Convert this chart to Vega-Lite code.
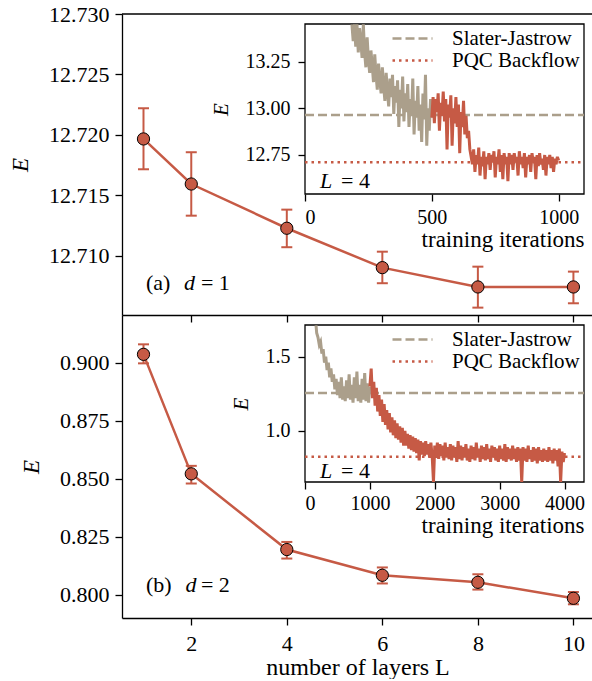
{
"$schema":"https://vega.github.io/schema/vega-lite/v6.json",
"padding":{"left":9,"top":3,"right":0,"bottom":0},
"spacing":0,
"bounds":"flush",
"config":{
 "font":"Liberation Serif",
 "view":{"stroke":null},
 "axis":{"grid":false,"domainColor":"black","domainWidth":1.3,"tickColor":"black","tickWidth":1.3,"tickSize":7,"labelColor":"black","titleColor":"black","labelFont":"Liberation Serif","titleFont":"Liberation Serif","labelFontSize":22,"titleFontSize":23,"titleFontWeight":"normal","labelPadding":6,"titlePadding":16},
 "legend":{"orient":"top-right","offset":13,"padding":0,"labelFont":"Liberation Serif","labelFontSize":21,"labelColor":"black","symbolType":"M-2,0L2,0","symbolSize":400,"symbolStrokeWidth":2.5,"labelOffset":28,"rowPadding":0},
 "text":{"font":"Liberation Serif","color":"black"}
},
"resolve":{"scale":{"color":"independent","strokeDash":"independent"}},
"datasets":{
 "top":[{"L":1,"E":12.71966,"lo":12.71715,"hi":12.7222},{"L":2,"E":12.71593,"lo":12.71331,"hi":12.71856},{"L":4,"E":12.71227,"lo":12.7107,"hi":12.71381},{"L":6,"E":12.70901,"lo":12.70772,"hi":12.71033},{"L":8,"E":12.70741,"lo":12.7057,"hi":12.70909},{"L":10,"E":12.70741,"lo":12.70606,"hi":12.70868}],
 "bot":[{"L":1,"E":0.90362,"lo":0.89974,"hi":0.90793},{"L":2,"E":0.85216,"lo":0.848,"hi":0.8556},{"L":4,"E":0.81957,"lo":0.81569,"hi":0.82284},{"L":6,"E":0.80849,"lo":0.80496,"hi":0.81186},{"L":8,"E":0.80547,"lo":0.80233,"hi":0.80892},{"L":10,"E":0.79858,"lo":0.79599,"hi":0.80129}],
 "sj1":[{"i":185,"E":13.45},{"i":190,"E":13.36},{"i":195,"E":13.45},{"i":200,"E":13.33},{"i":205,"E":13.45},{"i":210,"E":13.3},{"i":215,"E":13.43},{"i":220,"E":13.36},{"i":225,"E":13.27},{"i":230,"E":13.45},{"i":235,"E":13.3},{"i":240,"E":13.22},{"i":245,"E":13.38},{"i":250,"E":13.26},{"i":255,"E":13.19},{"i":260,"E":13.31},{"i":265,"E":13.23},{"i":270,"E":13.14},{"i":275,"E":13.29},{"i":280,"E":13.18},{"i":285,"E":13.1},{"i":290,"E":13.24},{"i":295,"E":13.15},{"i":300,"E":13.08},{"i":305,"E":13.22},{"i":310,"E":13.12},{"i":315,"E":13.04},{"i":320,"E":13.19},{"i":325,"E":13.09},{"i":330,"E":13.01},{"i":335,"E":13.16},{"i":340,"E":13.06},{"i":345,"E":13.18},{"i":350,"E":12.97},{"i":355,"E":13.12},{"i":360,"E":13.03},{"i":365,"E":13.15},{"i":370,"E":12.9},{"i":375,"E":13.1},{"i":380,"E":13.0},{"i":385,"E":13.17},{"i":390,"E":12.93},{"i":395,"E":13.08},{"i":400,"E":12.98},{"i":405,"E":13.13},{"i":410,"E":12.9},{"i":415,"E":13.05},{"i":420,"E":12.96},{"i":425,"E":13.16},{"i":430,"E":12.86},{"i":435,"E":13.04},{"i":440,"E":12.95},{"i":445,"E":13.12},{"i":450,"E":12.88},{"i":455,"E":13.02},{"i":460,"E":12.82},{"i":465,"E":13.08},{"i":470,"E":12.94},{"i":475,"E":13.18},{"i":480,"E":12.8},{"i":485,"E":13.0},{"i":490,"E":12.88},{"i":495,"E":13.05},{"i":500,"E":12.95}],
 "pqc1":[{"i":500,"E":12.95},{"i":505,"E":13.06},{"i":510,"E":12.92},{"i":515,"E":13.05},{"i":520,"E":12.98},{"i":525,"E":13.08},{"i":530,"E":12.88},{"i":535,"E":13.03},{"i":540,"E":12.96},{"i":545,"E":13.09},{"i":550,"E":12.93},{"i":555,"E":13.05},{"i":560,"E":12.78},{"i":565,"E":13.02},{"i":570,"E":12.95},{"i":575,"E":13.07},{"i":580,"E":12.8},{"i":585,"E":13.0},{"i":590,"E":12.92},{"i":595,"E":13.06},{"i":600,"E":12.9},{"i":605,"E":13.02},{"i":610,"E":12.76},{"i":615,"E":12.98},{"i":620,"E":12.9},{"i":625,"E":13.04},{"i":630,"E":12.86},{"i":635,"E":12.96},{"i":640,"E":12.84},{"i":645,"E":12.88},{"i":650,"E":12.78},{"i":655,"E":12.74},{"i":660,"E":12.7},{"i":665,"E":12.78},{"i":670,"E":12.66},{"i":675,"E":12.75},{"i":680,"E":12.7},{"i":685,"E":12.79},{"i":690,"E":12.64},{"i":695,"E":12.74},{"i":700,"E":12.69},{"i":705,"E":12.77},{"i":710,"E":12.62},{"i":715,"E":12.74},{"i":720,"E":12.7},{"i":725,"E":12.76},{"i":730,"E":12.67},{"i":735,"E":12.75},{"i":740,"E":12.71},{"i":745,"E":12.77},{"i":750,"E":12.63},{"i":755,"E":12.74},{"i":760,"E":12.7},{"i":765,"E":12.78},{"i":770,"E":12.66},{"i":775,"E":12.75},{"i":780,"E":12.62},{"i":785,"E":12.76},{"i":790,"E":12.7},{"i":795,"E":12.74},{"i":800,"E":12.61},{"i":805,"E":12.76},{"i":810,"E":12.7},{"i":815,"E":12.75},{"i":820,"E":12.67},{"i":825,"E":12.76},{"i":830,"E":12.71},{"i":835,"E":12.74},{"i":840,"E":12.64},{"i":845,"E":12.77},{"i":850,"E":12.7},{"i":855,"E":12.74},{"i":860,"E":12.68},{"i":865,"E":12.76},{"i":870,"E":12.63},{"i":875,"E":12.74},{"i":880,"E":12.7},{"i":885,"E":12.75},{"i":890,"E":12.66},{"i":895,"E":12.76},{"i":900,"E":12.71},{"i":905,"E":12.74},{"i":910,"E":12.62},{"i":915,"E":12.75},{"i":920,"E":12.69},{"i":925,"E":12.76},{"i":930,"E":12.7},{"i":935,"E":12.73},{"i":940,"E":12.67},{"i":945,"E":12.75},{"i":950,"E":12.64},{"i":955,"E":12.74},{"i":960,"E":12.7},{"i":965,"E":12.75},{"i":970,"E":12.68},{"i":975,"E":12.74},{"i":980,"E":12.66},{"i":985,"E":12.73},{"i":990,"E":12.7},{"i":995,"E":12.74},{"i":1000,"E":12.72}],
 "sj2":[{"i":170,"E":1.71},{"i":180,"E":1.66},{"i":200,"E":1.63},{"i":220,"E":1.58},{"i":240,"E":1.6},{"i":260,"E":1.52},{"i":280,"E":1.55},{"i":300,"E":1.46},{"i":320,"E":1.5},{"i":340,"E":1.41},{"i":360,"E":1.46},{"i":380,"E":1.36},{"i":400,"E":1.42},{"i":420,"E":1.33},{"i":440,"E":1.38},{"i":460,"E":1.28},{"i":480,"E":1.35},{"i":500,"E":1.24},{"i":520,"E":1.33},{"i":540,"E":1.22},{"i":560,"E":1.36},{"i":580,"E":1.21},{"i":600,"E":1.3},{"i":620,"E":1.2},{"i":640,"E":1.34},{"i":660,"E":1.22},{"i":680,"E":1.38},{"i":700,"E":1.21},{"i":720,"E":1.31},{"i":740,"E":1.19},{"i":760,"E":1.36},{"i":780,"E":1.22},{"i":800,"E":1.4},{"i":820,"E":1.2},{"i":840,"E":1.31},{"i":860,"E":1.19},{"i":880,"E":1.35},{"i":900,"E":1.21},{"i":920,"E":1.39},{"i":940,"E":1.2},{"i":960,"E":1.32},{"i":980,"E":1.19},{"i":1000,"E":1.3}],
 "pqc2":[{"i":1000,"E":1.3},{"i":1020,"E":1.42},{"i":1040,"E":1.22},{"i":1060,"E":1.33},{"i":1080,"E":1.17},{"i":1100,"E":1.29},{"i":1120,"E":1.13},{"i":1140,"E":1.24},{"i":1160,"E":1.1},{"i":1180,"E":1.21},{"i":1200,"E":1.06},{"i":1220,"E":1.18},{"i":1240,"E":1.04},{"i":1260,"E":1.14},{"i":1280,"E":1.01},{"i":1300,"E":1.12},{"i":1320,"E":0.99},{"i":1340,"E":1.09},{"i":1360,"E":0.97},{"i":1380,"E":1.07},{"i":1400,"E":0.95},{"i":1420,"E":1.05},{"i":1440,"E":0.94},{"i":1460,"E":1.03},{"i":1480,"E":0.92},{"i":1500,"E":1.02},{"i":1520,"E":0.9},{"i":1540,"E":1.0},{"i":1560,"E":0.9},{"i":1580,"E":0.98},{"i":1600,"E":0.88},{"i":1620,"E":0.97},{"i":1640,"E":0.87},{"i":1660,"E":0.96},{"i":1680,"E":0.86},{"i":1700,"E":0.95},{"i":1720,"E":0.85},{"i":1740,"E":0.94},{"i":1760,"E":0.8},{"i":1780,"E":0.93},{"i":1800,"E":0.84},{"i":1820,"E":0.92},{"i":1840,"E":0.83},{"i":1860,"E":0.93},{"i":1880,"E":0.84},{"i":1900,"E":0.91},{"i":1920,"E":0.82},{"i":1940,"E":0.92},{"i":1960,"E":0.83},{"i":1980,"E":0.6},{"i":2000,"E":0.9},{"i":2020,"E":0.82},{"i":2040,"E":0.92},{"i":2060,"E":0.81},{"i":2080,"E":0.91},{"i":2100,"E":0.83},{"i":2120,"E":0.9},{"i":2140,"E":0.8},{"i":2160,"E":0.92},{"i":2180,"E":0.82},{"i":2200,"E":0.89},{"i":2220,"E":0.81},{"i":2240,"E":0.91},{"i":2260,"E":0.8},{"i":2280,"E":0.9},{"i":2300,"E":0.82},{"i":2320,"E":0.89},{"i":2340,"E":0.79},{"i":2360,"E":0.93},{"i":2380,"E":0.81},{"i":2400,"E":0.9},{"i":2420,"E":0.8},{"i":2440,"E":0.89},{"i":2460,"E":0.82},{"i":2480,"E":0.91},{"i":2500,"E":0.8},{"i":2520,"E":0.88},{"i":2540,"E":0.79},{"i":2560,"E":0.9},{"i":2580,"E":0.81},{"i":2600,"E":0.89},{"i":2620,"E":0.8},{"i":2640,"E":0.92},{"i":2660,"E":0.82},{"i":2680,"E":0.88},{"i":2700,"E":0.79},{"i":2720,"E":0.9},{"i":2740,"E":0.81},{"i":2760,"E":0.89},{"i":2780,"E":0.8},{"i":2800,"E":0.91},{"i":2820,"E":0.81},{"i":2840,"E":0.88},{"i":2860,"E":0.79},{"i":2880,"E":0.9},{"i":2900,"E":0.82},{"i":2920,"E":0.89},{"i":2940,"E":0.8},{"i":2960,"E":0.88},{"i":2980,"E":0.79},{"i":3000,"E":0.9},{"i":3020,"E":0.81},{"i":3040,"E":0.88},{"i":3060,"E":0.8},{"i":3080,"E":0.91},{"i":3100,"E":0.79},{"i":3120,"E":0.89},{"i":3140,"E":0.81},{"i":3160,"E":0.88},{"i":3180,"E":0.8},{"i":3200,"E":0.9},{"i":3220,"E":0.81},{"i":3240,"E":0.88},{"i":3260,"E":0.79},{"i":3280,"E":0.89},{"i":3300,"E":0.8},{"i":3320,"E":0.88},{"i":3340,"E":0.6},{"i":3360,"E":0.89},{"i":3380,"E":0.8},{"i":3400,"E":0.88},{"i":3420,"E":0.79},{"i":3440,"E":0.9},{"i":3460,"E":0.81},{"i":3480,"E":0.87},{"i":3500,"E":0.79},{"i":3520,"E":0.89},{"i":3540,"E":0.8},{"i":3560,"E":0.88},{"i":3580,"E":0.78},{"i":3600,"E":0.89},{"i":3620,"E":0.8},{"i":3640,"E":0.87},{"i":3660,"E":0.79},{"i":3680,"E":0.88},{"i":3700,"E":0.8},{"i":3720,"E":0.87},{"i":3740,"E":0.79},{"i":3760,"E":0.89},{"i":3780,"E":0.8},{"i":3800,"E":0.87},{"i":3820,"E":0.78},{"i":3840,"E":0.88},{"i":3860,"E":0.8},{"i":3880,"E":0.87},{"i":3900,"E":0.76},{"i":3920,"E":0.88},{"i":3940,"E":0.65},{"i":3960,"E":0.86},{"i":3980,"E":0.79},{"i":4000,"E":0.85}]
},
"vconcat":[
 {
  "width":471,"height":301,
  "resolve":{"scale":{"x":"independent","y":"independent"},"axis":{"x":"independent","y":"independent"}},
  "layer":[
   {
    "layer":[
     {"data":{"name":"top"},"mark":{"type":"rule","color":"#c65a45","strokeWidth":2},
      "encoding":{
       "x":{"field":"L","type":"quantitative","scale":{"domain":[0.55,10.41],"nice":false,"zero":false},"axis":{"values":[2,4,6,8,10],"labels":false,"title":null}},
       "y":{"field":"lo","type":"quantitative","scale":{"domain":[12.70509,12.73],"nice":false,"zero":false},"axis":{"values":[12.71,12.715,12.72,12.725,12.73],"format":".3f","title":"E","titleFontStyle":"italic"}},
       "y2":{"field":"hi"}}},
     {"data":{"name":"top"},"mark":{"type":"tick","orient":"horizontal","color":"#c65a45","size":11,"thickness":2,"opacity":1},"encoding":{"x":{"field":"L","type":"quantitative"},"y":{"field":"lo","type":"quantitative"}}},
     {"data":{"name":"top"},"mark":{"type":"tick","orient":"horizontal","color":"#c65a45","size":11,"thickness":2,"opacity":1},"encoding":{"x":{"field":"L","type":"quantitative"},"y":{"field":"hi","type":"quantitative"}}},
     {"data":{"name":"top"},"mark":{"type":"line","color":"#c65a45","strokeWidth":2.5},"encoding":{"x":{"field":"L","type":"quantitative"},"y":{"field":"E","type":"quantitative"}}},
     {"data":{"name":"top"},"mark":{"type":"circle","size":150,"fill":"#c65a45","stroke":"black","strokeWidth":1,"opacity":1},"encoding":{"x":{"field":"L","type":"quantitative"},"y":{"field":"E","type":"quantitative"}}},
     {"data":{"values":[{"E":12.73}]},"mark":{"type":"rule","color":"black","strokeWidth":1.3},"encoding":{"y":{"field":"E","type":"quantitative"}}},
     {"data":{"values":[{"L":1.052,"E":12.70774,"t":"(a)"},{"L":2.203,"E":12.70774,"t":"= 1"}]},"mark":{"type":"text","fontSize":22,"align":"left","baseline":"middle"},"encoding":{"x":{"field":"L","type":"quantitative"},"y":{"field":"E","type":"quantitative"},"text":{"field":"t"}}},
     {"data":{"values":[{"L":1.847,"E":12.70774,"t":"d"}]},"mark":{"type":"text","fontSize":22,"fontStyle":"italic","align":"left","baseline":"middle"},"encoding":{"x":{"field":"L","type":"quantitative"},"y":{"field":"E","type":"quantitative"},"text":{"field":"t"}}}
    ]
   },
   {
    "encoding":{
     "x":{"field":"i","type":"quantitative","scale":{"domain":[0,1100],"range":[183,462],"nice":false,"zero":false},"axis":{"orient":"bottom","offset":-121,"values":[0,500,1000],"format":"d","domain":false,"tickSize":7,"labelFontSize":20,"labelPadding":6,"title":"training iterations","titleFontSize":23,"titlePadding":1,"titleAnchor":"end"}},
     "y":{"field":"E","type":"quantitative","scale":{"domain":[12.541,13.452],"range":[180,10],"nice":false,"zero":false,"clamp":true},"axis":{"orient":"left","offset":-183,"values":[12.75,13,13.25],"format":".2f","domain":false,"tickSize":7,"labelFontSize":20,"labelPadding":8,"title":"E","titleFontStyle":"italic","titleFontSize":21,"titlePadding":14}}
    },
    "layer":[
     {"data":{"values":[{"i":0,"i2":1100,"E":12.541,"E2":13.452}]},"mark":{"type":"rect","fill":"white","stroke":"black","strokeWidth":1.3},"encoding":{"x2":{"field":"i2"},"y2":{"field":"E2"}}},
     {"data":{"values":[{"i":0,"i2":1100,"E":12.964,"m":"Slater-Jastrow"},{"i":0,"i2":1100,"E":12.711,"m":"PQC Backflow"}]},"mark":{"type":"rule","strokeWidth":2.5},
      "encoding":{"x2":{"field":"i2"},
       "color":{"field":"m","type":"nominal","scale":{"domain":["Slater-Jastrow","PQC Backflow"],"range":["#ab9f8b","#c65a45"]},"legend":{"title":null}},
       "strokeDash":{"field":"m","type":"nominal","scale":{"domain":["Slater-Jastrow","PQC Backflow"],"range":[[9,4],[2.5,4]]},"legend":{"title":null}}}},
     {"data":{"name":"sj1"},"mark":{"type":"line","color":"#ab9f8b","strokeWidth":3}},
     {"data":{"name":"pqc1"},"mark":{"type":"line","color":"#c65a45","strokeWidth":3}},
     {"data":{"values":[{"i":59,"E":12.611,"t":"L"}]},"mark":{"type":"text","fontSize":22,"fontStyle":"italic","align":"left","baseline":"middle"},"encoding":{"text":{"field":"t"}}},
     {"data":{"values":[{"i":142,"E":12.611,"t":"= 4"}]},"mark":{"type":"text","fontSize":22,"align":"left","baseline":"middle"},"encoding":{"text":{"field":"t"}}}
    ]
   }
  ]
 },
 {
  "width":471,"height":303,
  "resolve":{"scale":{"x":"independent","y":"independent"},"axis":{"x":"independent","y":"independent"}},
  "layer":[
   {
    "layer":[
     {"data":{"name":"bot"},"mark":{"type":"rule","color":"#c65a45","strokeWidth":2},
      "encoding":{
       "x":{"field":"L","type":"quantitative","scale":{"domain":[0.55,10.41],"nice":false,"zero":false},"axis":{"values":[2,4,6,8,10],"title":"number of layers L","titleFontSize":24,"labelPadding":8,"titlePadding":1}},
       "y":{"field":"lo","type":"quantitative","scale":{"domain":[0.79009,0.92056],"nice":false,"zero":false},"axis":{"values":[0.8,0.825,0.85,0.875,0.9],"format":".3f","title":"E","titleFontStyle":"italic"}},
       "y2":{"field":"hi"}}},
     {"data":{"name":"bot"},"mark":{"type":"tick","orient":"horizontal","color":"#c65a45","size":11,"thickness":2,"opacity":1},"encoding":{"x":{"field":"L","type":"quantitative"},"y":{"field":"lo","type":"quantitative"}}},
     {"data":{"name":"bot"},"mark":{"type":"tick","orient":"horizontal","color":"#c65a45","size":11,"thickness":2,"opacity":1},"encoding":{"x":{"field":"L","type":"quantitative"},"y":{"field":"hi","type":"quantitative"}}},
     {"data":{"name":"bot"},"mark":{"type":"line","color":"#c65a45","strokeWidth":2.5},"encoding":{"x":{"field":"L","type":"quantitative"},"y":{"field":"E","type":"quantitative"}}},
     {"data":{"name":"bot"},"mark":{"type":"circle","size":150,"fill":"#c65a45","stroke":"black","strokeWidth":1,"opacity":1},"encoding":{"x":{"field":"L","type":"quantitative"},"y":{"field":"E","type":"quantitative"}}},
     {"data":{"values":[{"L":1.052,"E":0.80431,"t":"(b)"},{"L":2.203,"E":0.80431,"t":"= 2"}]},"mark":{"type":"text","fontSize":22,"align":"left","baseline":"middle"},"encoding":{"x":{"field":"L","type":"quantitative"},"y":{"field":"E","type":"quantitative"},"text":{"field":"t"}}},
     {"data":{"values":[{"L":1.88,"E":0.80431,"t":"d"}]},"mark":{"type":"text","fontSize":22,"fontStyle":"italic","align":"left","baseline":"middle"},"encoding":{"x":{"field":"L","type":"quantitative"},"y":{"field":"E","type":"quantitative"},"text":{"field":"t"}}}
    ]
   },
   {
    "encoding":{
     "x":{"field":"i","type":"quantitative","scale":{"domain":[0,4300],"range":[183,462],"nice":false,"zero":false},"axis":{"orient":"bottom","offset":-136,"values":[0,1000,2000,3000,4000],"format":"d","domain":false,"tickSize":7,"labelFontSize":20,"labelPadding":4,"title":"training iterations","titleFontSize":23,"titlePadding":1,"titleAnchor":"end"}},
     "y":{"field":"E","type":"quantitative","scale":{"domain":[0.6548,1.7133],"range":[167,10],"nice":false,"zero":false,"clamp":true},"axis":{"orient":"left","offset":-183,"values":[1.0,1.5],"format":".1f","domain":false,"tickSize":7,"labelFontSize":20,"labelPadding":8,"title":"E","titleFontStyle":"italic","titleFontSize":21,"titlePadding":14}}
    },
    "layer":[
     {"data":{"values":[{"i":0,"i2":4300,"E":0.6548,"E2":1.7133}]},"mark":{"type":"rect","fill":"white","stroke":"black","strokeWidth":1.3},"encoding":{"x2":{"field":"i2"},"y2":{"field":"E2"}}},
     {"data":{"values":[{"i":0,"i2":4300,"E":1.254,"m":"Slater-Jastrow"},{"i":0,"i2":4300,"E":0.825,"m":"PQC Backflow"}]},"mark":{"type":"rule","strokeWidth":2.5},
      "encoding":{"x2":{"field":"i2"},
       "color":{"field":"m","type":"nominal","scale":{"domain":["Slater-Jastrow","PQC Backflow"],"range":["#ab9f8b","#c65a45"]},"legend":{"title":null}},
       "strokeDash":{"field":"m","type":"nominal","scale":{"domain":["Slater-Jastrow","PQC Backflow"],"range":[[9,4],[2.5,4]]},"legend":{"title":null}}}},
     {"data":{"name":"sj2"},"mark":{"type":"line","color":"#ab9f8b","strokeWidth":3}},
     {"data":{"name":"pqc2"},"mark":{"type":"line","color":"#c65a45","strokeWidth":3}},
     {"data":{"values":[{"i":230,"E":0.726,"t":"L"}]},"mark":{"type":"text","fontSize":22,"fontStyle":"italic","align":"left","baseline":"middle"},"encoding":{"text":{"field":"t"}}},
     {"data":{"values":[{"i":555,"E":0.726,"t":"= 4"}]},"mark":{"type":"text","fontSize":22,"align":"left","baseline":"middle"},"encoding":{"text":{"field":"t"}}}
    ]
   }
  ]
 }
]
}
